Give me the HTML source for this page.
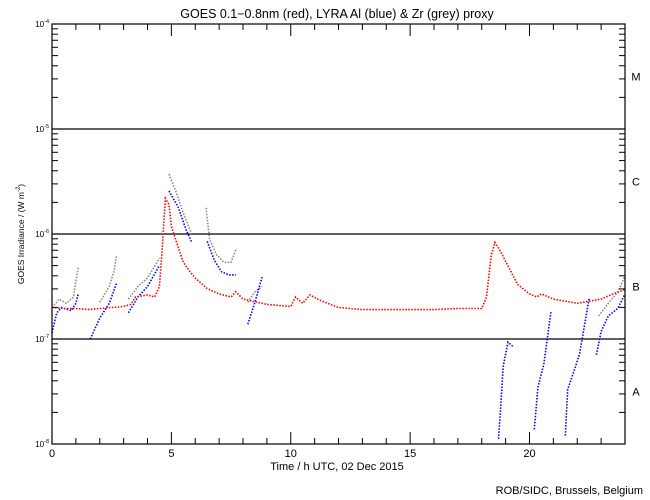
<!DOCTYPE html>
<html><head><meta charset="utf-8"><style>
body{margin:0;background:#fff}
svg{display:block;font-family:"Liberation Sans",sans-serif}
</style></head><body>
<svg id="chart" width="650" height="500" viewBox="0 0 650 500">
<rect width="650" height="500" fill="#fff"/>
<text x="337" y="18" font-size="12.5" text-anchor="middle">GOES 0.1−0.8nm (red), LYRA Al (blue) &amp; Zr (grey) proxy</text>
<g id="grid"></g>
<g id="series"></g>
<rect x="52" y="24" width="573" height="420" fill="none" stroke="#000" stroke-width="1.2"/>
<g id="axes"></g>
<text x="337" y="470" font-size="11" text-anchor="middle">Time / h UTC, 02 Dec 2015</text>
<text transform="translate(24,234) rotate(-90)" font-size="8.5" text-anchor="middle">GOES Irradiance / (W m<tspan font-size="6" dy="-4">-2</tspan><tspan dy="4">)</tspan></text>
<text x="643" y="494" font-size="11" text-anchor="end">ROB/SIDC, Brussels, Belgium</text>
</svg>
<script>
const xTicks=[0,5,10,15,20];
const yDecades=[-8,-7,-6,-5,-4];
const classLabels=["A","B","C","M"];
// hours and log10(W/m2); null = gap
const redT=[0,0.5,1,1.5,2,2.5,3,3.3,3.5,4,4.3,4.5,4.6,4.75,4.9,5,5.25,5.5,5.75,6,6.5,7,7.5,7.7,8,9,10,10.2,10.5,10.8,11.2,12,13,14,15,16,17,18,18.2,18.4,18.55,18.8,19,19.5,20,20.3,20.5,21,22,23,23.5,24];
const redV=[-6.7,-6.71,-6.71,-6.72,-6.71,-6.7,-6.69,-6.67,-6.6,-6.58,-6.6,-6.5,-6.2,-5.66,-5.72,-5.93,-6.1,-6.27,-6.35,-6.42,-6.52,-6.57,-6.6,-6.55,-6.62,-6.67,-6.69,-6.6,-6.66,-6.58,-6.63,-6.7,-6.72,-6.72,-6.72,-6.72,-6.71,-6.71,-6.6,-6.2,-6.08,-6.17,-6.26,-6.48,-6.57,-6.6,-6.57,-6.62,-6.66,-6.62,-6.57,-6.53];
const blueT=[0,0.2,0.4,0.8,1.0,1.1,null,1.6,2.0,2.4,2.7,null,3.2,3.6,4.0,4.5,null,4.9,5.3,5.6,5.85,null,6.5,6.8,7.1,7.4,7.7,null,8.2,8.5,8.8,null,18.7,18.8,18.9,19.1,19.3,null,20.2,20.35,20.6,20.9,null,21.5,21.6,21.9,22.1,22.5,null,22.8,23.0,23.3,23.7,24];
const blueV=[-6.94,-6.75,-6.7,-6.73,-6.66,-6.57,null,-7.0,-6.8,-6.66,-6.47,null,-6.75,-6.6,-6.5,-6.3,null,-5.59,-5.75,-5.95,-6.08,null,-6.07,-6.25,-6.36,-6.39,-6.39,null,-6.86,-6.65,-6.41,null,-7.95,-7.63,-7.26,-7.03,-7.07,null,-7.86,-7.46,-7.24,-6.74,null,-7.92,-7.48,-7.28,-7.14,-6.61,null,-7.15,-6.93,-6.78,-6.71,-6.57];
const greyT=[0,0.3,0.6,0.9,1.0,1.1,null,2.0,2.4,2.6,2.7,null,3.2,3.6,4.0,4.5,null,4.9,5.2,5.5,5.85,null,6.45,6.6,6.9,7.2,7.5,7.7,null,8.2,8.5,8.8,null,22.9,23.3,23.7,24];
const greyV=[-6.7,-6.62,-6.66,-6.6,-6.45,-6.32,null,-6.65,-6.5,-6.35,-6.2,null,-6.62,-6.5,-6.42,-6.23,null,-5.43,-5.6,-5.8,-6.0,null,-5.75,-6.05,-6.2,-6.27,-6.27,-6.15,null,-6.65,-6.55,-6.5,null,-6.78,-6.66,-6.55,-6.4];

const NS="http://www.w3.org/2000/svg";
const X0=52,X1=625,Y0=24,Y1=444;
const xs=h=>X0+(X1-X0)*h/24;
const ys=v=>Y1-(v+8)*(Y1-Y0)/4;
function mk(tag,attrs,parent){const e=document.createElementNS(NS,tag);for(const k in attrs)e.setAttribute(k,attrs[k]);parent.appendChild(e);return e;}
const grid=document.getElementById('grid'),axes=document.getElementById('axes'),ser=document.getElementById('series');

// horizontal class lines
[-7,-6,-5].forEach(d=>{
  const l=mk('line',{x1:X0,x2:X1,y1:ys(d),y2:ys(d),stroke:'#000','stroke-width':1.2},grid);
  
  
});
// y ticks and labels
yDecades.forEach(d=>{
  const t=mk('text',{x:49,y:ys(d)+3,'font-size':8,'text-anchor':'end'},axes);
  t.innerHTML='10<tspan font-size="5.5" dy="-4">'+d+'</tspan>';
  
  
  if(d<-4){for(let m=1;m<10;m++){const v=d+Math.log10(m);const len=m===1?12:6;
    const a=mk('line',{x1:X0,x2:X0+len,y1:ys(v),y2:ys(v),stroke:'#000'},axes);
    
    
    const b=mk('line',{x1:X1,x2:X1-len,y1:ys(v),y2:ys(v),stroke:'#000'},axes);
    
    }}
});
classLabels.forEach((c,i)=>{
  const t=mk('text',{x:636,y:ys(-7.5+i)+4,'font-size':11,'text-anchor':'middle'},axes);
  t.textContent=c;
  
  
});
for(let h=0;h<=24;h++){const len=h%5===0?12:6;
  const a=mk('line',{x1:xs(h),x2:xs(h),y1:Y1,y2:Y1-len,stroke:'#000'},axes);
  
  
  const b=mk('line',{x1:xs(h),x2:xs(h),y1:Y0,y2:Y0+len,stroke:'#000'},axes);
  
  }
xTicks.forEach(h=>{
  const t=mk('text',{x:xs(h),y:457,'font-size':11,'text-anchor':'middle'},axes);
  t.textContent=h;
  
  
});
function draw(T,V,color,name){
  let pts=[];const segs=[];
  for(let i=0;i<T.length;i++){if(T[i]===null){if(pts.length)segs.push(pts);pts=[];}else pts.push(xs(T[i]).toFixed(1)+','+ys(V[i]).toFixed(1));}
  if(pts.length)segs.push(pts);
  segs.forEach(s=>{
    const p=mk('polyline',{points:s.join(' '),fill:'none',stroke:color,'stroke-width':1.6,'stroke-dasharray':'1.5 1.5'},ser);
    
    
  });
}
draw(greyT,greyV,'#888','zr-proxy-series');
draw(blueT,blueV,'#0000ff','al-proxy-series');
draw(redT,redV,'#ff0000','goes-series');
</script>
</body></html>
